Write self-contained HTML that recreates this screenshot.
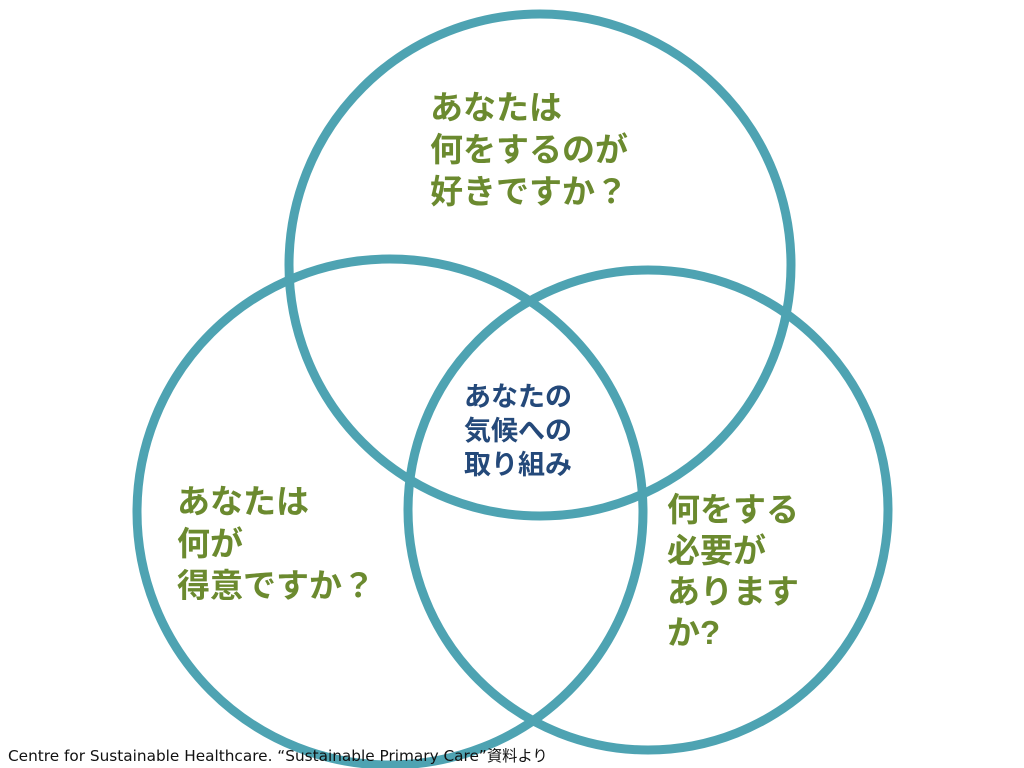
<!DOCTYPE html>
<html><head><meta charset="utf-8"><style>
body{margin:0;width:1024px;height:768px;background:#fff;overflow:hidden;position:relative;font-family:"Liberation Sans","Noto Sans CJK JP",sans-serif}
.t{position:absolute;font-weight:bold;color:#6b8a2f;font-size:33px;line-height:42px;white-space:nowrap;font-family:"Liberation Sans","Noto Sans CJK JP",sans-serif}
.c{position:absolute;font-weight:bold;color:#24497a;font-size:27px;line-height:34px;white-space:nowrap}
.cap{position:absolute;left:8px;top:744px;font-size:15.3px;color:#111;white-space:nowrap;font-family:"DejaVu Sans","Noto Sans CJK JP",sans-serif}
</style></head><body>
<svg width="1024" height="768" style="position:absolute;left:0;top:0">
<g fill="none" stroke="#4ea3b2" stroke-width="9">
<circle cx="540" cy="265" r="251"/>
<circle cx="390" cy="512" r="253"/>
<circle cx="648" cy="510" r="240"/>
</g></svg>
<div class="t" style="left:430px;top:87px">あなたは<br>何をするのが<br>好きですか？</div>
<div class="c" style="left:464px;top:380px">あなたの<br>気候への<br>取り組み</div>
<div class="t" style="left:177px;top:481px">あなたは<br>何が<br>得意ですか？</div>
<div class="t" style="left:667px;top:489px;line-height:41px">何をする<br>必要が<br>あります<br>か?</div>
<div class="cap">Centre for Sustainable Healthcare. “Sustainable Primary Care”資料より</div>
</body></html>
